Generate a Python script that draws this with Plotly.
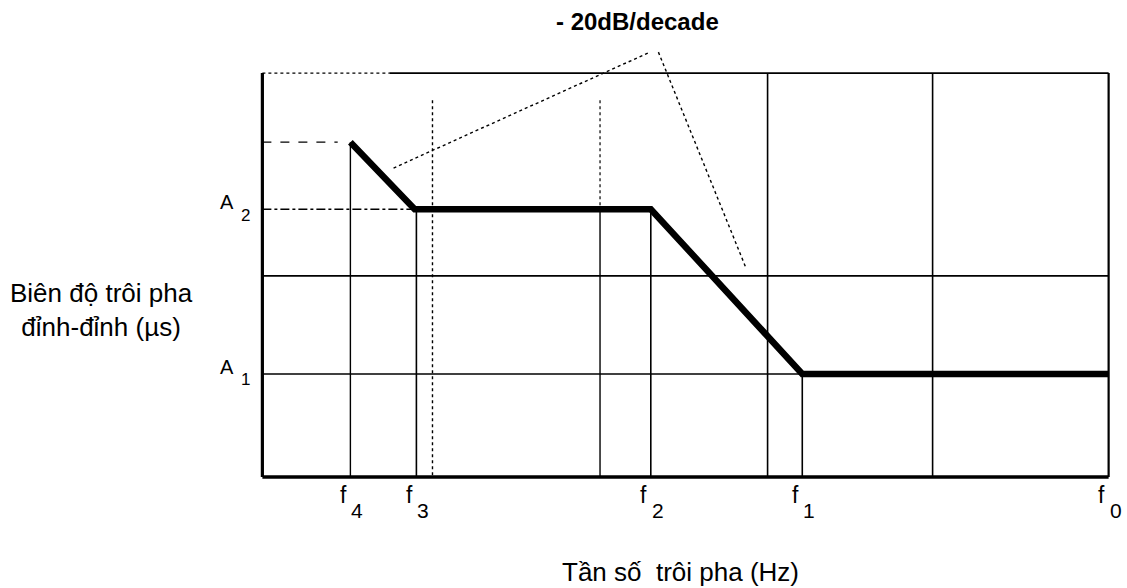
import plotly.graph_objects as go

# ---- data (schematic units: x = relative log-frequency, y = relative amplitude) ----
tick_names = ["f4", "f3", "f2", "f1", "f0"]
tick_x = [10.4, 18.2, 45.9, 63.8, 100.0]
tick_main = ["f", "f", "f", "f", "f"]
tick_sub = ["4", "3", "2", "1", "0"]

curve_x = [10.4, 18.0, 45.9, 63.8, 100.0]
curve_y = [82.9, 66.3, 66.3, 25.5, 25.5]

level_names = ["A2", "A1"]
level_y = [66.3, 25.5]
level_main = ["A", "A"]
level_sub = ["2", "1"]

# grid (vertical) lines: x, y_from, y_to, style
vgrid_x = [10.4, 18.2, 20.1, 39.9, 39.9, 45.9, 59.7, 63.8, 79.2, 100.0]
vgrid_y0 = [82.9, 66.3, 93.3, 93.3, 66.3, 66.3, 100.0, 25.5, 100.0, 100.0]
vgrid_y1 = [0, 0, 0, 66.3, 0, 0, 0, 0, 0, 0]
vgrid_dash = ["solid", "solid", "dot", "dot", "solid", "solid", "solid", "solid", "solid", "solid"]
vgrid_w = [1.4, 1.6, 1.4, 1.2, 1.4, 1.6, 1.6, 1.6, 1.6, 2.2]

# grid (horizontal) lines: y, x_from, x_to, style
hgrid_y = [100.0, 100.0, 82.9, 66.3, 49.8, 25.5]
hgrid_x0 = [0, 15.0, 0, 0, 0, 0]
hgrid_x1 = [15.0, 100.0, 8.9, 18.0, 100.0, 63.8]
hgrid_dash = ["dot", "solid", "dash", "dashdot", "solid", "solid"]
hgrid_w = [1.2, 1.6, 1.4, 1.6, 1.6, 1.6]

# leader lines for the slope annotation
lead1_x = [15.5, 45.8]
lead1_y = [76.5, 105.2]
lead2_x = [46.8, 57.1]
lead2_y = [105.2, 52.0]

slope_text = "- 20dB/decade"
x_title = "Tần số  trôi pha (Hz)"
y_title = "Biên độ trôi pha<br>đỉnh-đỉnh (µs)"

FONT = "Liberation Sans, Arial, sans-serif"

fig = go.Figure()

for x, a, b, d, w in zip(vgrid_x, vgrid_y0, vgrid_y1, vgrid_dash, vgrid_w):
    fig.add_trace(go.Scatter(x=[x, x], y=[a, b], mode="lines",
                             line=dict(color="black", width=w, dash=d),
                             hoverinfo="skip", showlegend=False))
for y, a, b, d, w in zip(hgrid_y, hgrid_x0, hgrid_x1, hgrid_dash, hgrid_w):
    fig.add_trace(go.Scatter(x=[a, b], y=[y, y], mode="lines",
                             line=dict(color="black", width=w, dash=d),
                             hoverinfo="skip", showlegend=False))

# axes frame (left and bottom)
fig.add_trace(go.Scatter(x=[0, 0], y=[100, 0], mode="lines",
                         line=dict(color="black", width=3.2), showlegend=False, hoverinfo="skip"))
fig.add_trace(go.Scatter(x=[0, 100], y=[0, 0], mode="lines",
                         line=dict(color="black", width=3.6), showlegend=False, hoverinfo="skip"))

# leader lines
for lx, ly in [(lead1_x, lead1_y), (lead2_x, lead2_y)]:
    fig.add_trace(go.Scatter(x=lx, y=ly, mode="lines",
                             line=dict(color="black", width=1.4, dash="dot"),
                             showlegend=False, hoverinfo="skip"))

# main curve
fig.add_trace(go.Scatter(x=curve_x, y=curve_y, mode="lines",
                         line=dict(color="black", width=6.5),
                         showlegend=False, hoverinfo="skip"))

fig.update_layout(
    width=1127, height=588,
    margin=dict(l=259, r=15, t=40, b=107),
    paper_bgcolor="white", plot_bgcolor="white",
    font=dict(family=FONT, color="black"),
    xaxis=dict(range=[-0.4, 100.4], showgrid=False, zeroline=False, showline=False,
               tickmode="array", tickvals=tick_x, showticklabels=False, ticks=""),
    yaxis=dict(range=[-1, 108.2], showgrid=False, zeroline=False, showline=False,
               tickmode="array", tickvals=level_y, showticklabels=False, ticks=""),
)

# frequency labels: "f" with lowered index digit
for x, m, s in zip(tick_x, tick_main, tick_sub):
    fig.add_annotation(xref="x", yref="paper", x=x, y=-0.0317, xshift=-7,
                       xanchor="center", yanchor="middle", showarrow=False, text=m,
                       font=dict(size=23, family=FONT, color="black"))
    fig.add_annotation(xref="x", yref="paper", x=x, y=-0.068, xshift=7,
                       xanchor="center", yanchor="middle", showarrow=False, text=s,
                       font=dict(size=21, family=FONT, color="black"))

# amplitude labels: "A" with lowered index digit
for y, m, s in zip(level_y, level_main, level_sub):
    fig.add_annotation(xref="paper", yref="y", x=-0.037, y=y, yshift=7,
                       xanchor="center", yanchor="middle", showarrow=False, text=m,
                       font=dict(size=20, family=FONT, color="black"))
    fig.add_annotation(xref="paper", yref="y", x=-0.0155, y=y, yshift=-6,
                       xanchor="center", yanchor="middle", showarrow=False, text=s,
                       font=dict(size=17, family=FONT, color="black"))

fig.add_annotation(xref="paper", yref="paper", x=0.4443, y=1.041, xanchor="center", yanchor="middle",
                   showarrow=False, text=slope_text,
                   font=dict(size=24, family=FONT, color="black", weight="bold"))
fig.add_annotation(xref="paper", yref="paper", x=0.4936, y=-0.206, xanchor="center", yanchor="middle",
                   showarrow=False, text=x_title, font=dict(size=26, family=FONT, color="black"))
fig.add_annotation(xref="paper", yref="paper", x=-0.185, y=0.388, xanchor="center", yanchor="middle",
                   showarrow=False, text=y_title, font=dict(size=26, family=FONT, color="black"))

fig.write_html("out.html")
